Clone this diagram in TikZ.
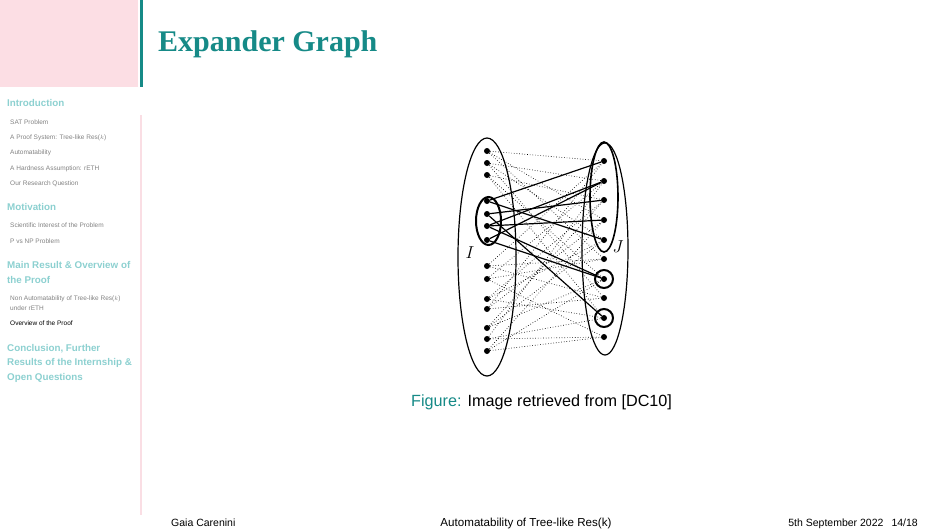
\documentclass[tikz,border=0pt]{standalone}
\usepackage{fontspec}
\setmainfont{Liberation Sans}
\newfontfamily\titlefont{Liberation Serif}
\definecolor{pinkbg}{RGB}{252,222,228}
\definecolor{tealdark}{RGB}{22,138,135}
\definecolor{seclight}{RGB}{140,208,208}
\definecolor{itemgray}{RGB}{130,130,130}
\definecolor{pinkline}{RGB}{250,222,228}
\begin{document}
\begin{tikzpicture}[x=1pt,y=-1pt,
  dot/.style={circle,fill=black,inner sep=0pt,minimum size=6pt},
  sol/.style={line width=1.2pt},
  dotl/.style={dotted,line width=0.65pt},
  sec/.style={anchor=base west,inner sep=0pt,text=seclight,font=\fontsize{9.8}{12}\selectfont\bfseries},
  item/.style={anchor=base west,inner sep=0pt,text=itemgray,font=\fontsize{6.5}{8}\selectfont},
  foot/.style={inner sep=0pt,font=\fontsize{10.5}{12}\selectfont}]
\useasboundingbox (0,0) rectangle (945,531);
% header / sidebar decorations
\fill[pinkbg] (0,0) rectangle (138,87);
\fill[tealdark] (140,0) rectangle (142.5,87);
\draw[pinkline, line width=1.5pt] (141,115) -- (141,515);
% title
\node[anchor=base west,inner sep=0pt,text=tealdark,font=\titlefont\bfseries\fontsize{30}{36}\selectfont] (title) at (158,51) {Expander Graph};
% sidebar
\node[sec] (s1) at (7,106.7) {Introduction};
\node[item] (i11) at (10,124) {SAT Problem};
\node[item] (i12) at (10,139.5) {A Proof System: Tree-like Res($k$)};
\node[item] (i13) at (10,154.5) {Automatability};
\node[item] (i14) at (10,170) {A Hardness Assumption: rETH};
\node[item] (i15) at (10,185.5) {Our Research Question};
\node[sec] (s2) at (7,210.5) {Motivation};
\node[item] (i21) at (10,227.5) {Scientific Interest of the Problem};
\node[item] (i22) at (10,243) {$\mathrm{P}$ vs $\mathrm{NP}$ Problem};
\node[sec] (s3a) at (7,268.5) {Main Result \& Overview of};
\node[sec] (s3b) at (7,283) {the Proof};
\node[item] (i31a) at (10,300) {Non Automatability of Tree-like Res($k$)};
\node[item] (i31b) at (10,310.5) {under rETH};
\node[item,text=black] (i32) at (10,325.5) {Overview of the Proof};
\node[sec] (s4a) at (7,351) {Conclusion, Further};
\node[sec] (s4b) at (7,365.5) {Results of the Internship \&};
\node[sec] (s4c) at (7,380) {Open Questions};
% footer
\node[foot,anchor=base west] (f1) at (171,526) {Gaia Carenini};
\node[foot,anchor=base,font=\fontsize{11.6}{13}\selectfont] (f2) at (526,526) {Automatability of Tree-like Res(k)};
\node[foot,anchor=base east] (f3) at (918,526) {5th September 2022\hspace{8pt}14/18};
% caption
\node[anchor=base west,inner sep=0pt,font=\fontsize{16.2}{19}\selectfont] (cap) at (411,406) {\textcolor{tealdark}{Figure:} Image retrieved from [DC10]};
% graph: sets
\draw[line width=1.2pt] (487,257) ellipse [x radius=29, y radius=119];
\draw[line width=2pt] (488.5,221) ellipse [x radius=12.5, y radius=24];
\draw[line width=1.2pt] (605,249) ellipse [x radius=23, y radius=106];
\draw[line width=1.6pt] (604,197) ellipse [x radius=14, y radius=55];
\node[font=\fontsize{19}{22}\selectfont,inner sep=0pt] (ilab) at (470,253) {$I$};
\node[font=\fontsize{19}{22}\selectfont,inner sep=0pt] (jlab) at (618,247) {$J$};
% left dots
\foreach \n/\y in {1/151,2/163,3/175,4/201,5/214,6/226,7/240,8/266,9/279,10/299,11/309,12/328,13/339,14/351}
  \node[dot] (l\n) at (487,\y) {};
% right dots
\foreach \n/\y in {1/161,2/181,3/200,4/220,5/240,6/259,7/279,8/298,9/318,10/337}
  \node[dot] (r\n) at (604,\y) {};
\node[draw,circle,line width=2pt,minimum size=18pt,inner sep=0pt] (c7) at (r7) {};
\node[draw,circle,line width=2pt,minimum size=18pt,inner sep=0pt] (c9) at (r9) {};
% dotted edges
\foreach \a/\b in {1/1,1/4,1/6,2/2,2/5,2/8,3/3,3/7,3/9,8/1,8/6,8/8,9/2,9/6,9/10,10/3,10/5,10/9,11/4,11/8,11/1,12/5,12/7,12/3,13/2,13/9,13/10,14/4,14/10,14/7}
  \draw[dotl] (l\a) -- (r\b);
% solid edges
\foreach \a/\b in {4/1,4/5,5/3,5/9,6/2,6/4,6/7,7/2,7/7}
  \draw[sol] (l\a) -- (r\b);
\end{tikzpicture}
\end{document}
